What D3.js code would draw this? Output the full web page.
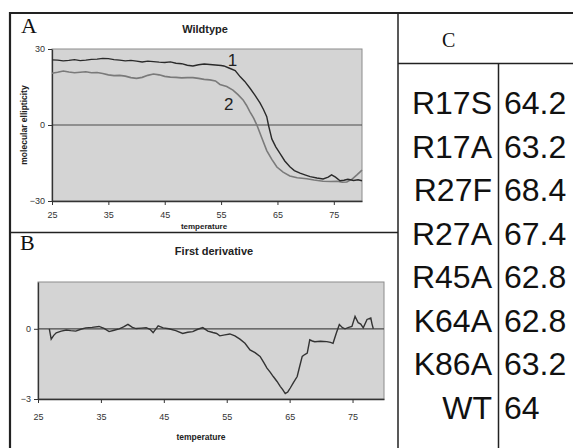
<!DOCTYPE html>
<html><head><meta charset="utf-8">
<script src="https://cdn.jsdelivr.net/npm/d3@7"></script>
<style>
body{margin:0;background:#fff;}
svg{display:block;font-family:"Liberation Sans",Arial,sans-serif;}
</style></head>
<body>
<script>
// ---- data ----
const tempA1 = [25,26,27,28,29,30,31,32,33,34,35,36,37,38,39,40,41,42,43,44,45,46,47,48,49,50,51,52,53,54,55,55.5,56.5,57.5,58.4,59.2,60.1,61,61.9,62.5,63.1,63.4,64,64.7,65.5,66.3,67.2,68,69,70,70.8,72,73.1,74,74.6,75.3,76.1,76.8,77.5,78.5,79.3,80];
const curve1 = [25.7,25.6,25.3,25.5,25.8,25.4,25.6,25.9,26.0,26.3,26.2,25.8,25.6,25.3,25.5,25.2,24.9,25.2,25.0,24.8,24.7,24.9,24.4,24.2,23.6,23.3,23.8,24.1,23.9,23.7,23.5,23.3,22.4,21.5,19.0,17.2,14.6,11.8,8.7,6.2,3.3,0,-5.5,-8.6,-11.4,-14.2,-16.5,-18.0,-19.0,-19.8,-20.4,-20.9,-21.3,-20.6,-19.7,-20.6,-22.0,-21.8,-21.4,-21.9,-21.6,-22.0];
const tempA2 = [25,26,27,28,29,30,31,32,33,34,35,36,37,38,39,40,41,42,43,44,45,46,47,48,49,50,51,52,53,54,54.8,56,57.1,58,58.9,59.5,60.1,60.8,61.4,62.3,63.1,64,64.9,66,67.2,68.5,70.2,71.5,73.1,74.5,75.6,76.5,77.3,78.3,79.1,80];
const curve2 = [20.4,20.8,21.3,20.9,20.6,20.8,21.0,20.6,20.7,20.3,19.8,19.5,19.6,19.3,18.7,18.4,18.8,19.6,20.1,19.8,19.2,18.9,18.8,18.6,18.7,18.7,18.4,18.0,17.8,17.4,16.0,15.2,13.8,12.0,9.9,7.8,5.3,2.6,-0.3,-5.5,-10.1,-13.6,-16.6,-18.6,-20.1,-20.8,-21.2,-21.7,-22.2,-22.3,-22.2,-22.6,-22.5,-21.3,-19.7,-17.8];
const tempB = [26.8,27.1,27.5,27.9,28.7,29.5,30.2,31,31.8,32.6,33.6,34.7,35.5,36.3,37.1,37.9,38.6,39.3,40,40.6,41.4,42.2,42.8,43.3,44.1,44.9,45.8,46.9,48,48.8,49.6,50.4,51.2,52,52.8,53.4,53.9,54.7,55.5,56.3,57.1,57.9,58.7,59.5,60.3,60.9,61.4,61.9,62.4,63,63.5,63.9,64.3,64.7,65.1,65.6,66.2,66.6,67,67.4,67.8,68.2,68.6,69,69.9,70.9,71.5,71.9,72.4,72.9,73.4,73.8,74.4,74.9,75.4,75.9,76.3,76.7,77.3,77.9,78.1,78.3];
const deriv = [0,-0.44,-0.28,-0.17,-0.1,-0.05,-0.08,-0.1,-0.02,0.04,0.06,0.1,0.02,-0.12,-0.06,0,0.08,0.19,0.06,0.01,0.03,0.05,-0.02,-0.16,0.13,0.04,0,-0.08,-0.2,-0.15,-0.12,-0.02,0.05,-0.1,-0.16,-0.2,-0.3,-0.26,-0.22,-0.3,-0.44,-0.62,-0.9,-1.02,-1.18,-1.45,-1.68,-1.85,-2.04,-2.25,-2.46,-2.6,-2.77,-2.7,-2.53,-2.3,-2.04,-1.6,-1.18,-1.1,-1.04,-0.47,-0.52,-0.55,-0.53,-0.55,-0.58,-0.62,-0.2,0.18,0.05,0,0.06,0.1,0.53,0.26,0.2,0.04,0.4,0.46,0.2,0];
const xTicks = [25,35,45,55,65,75];
const yTicksA = [-30,0,30];
const yTicksB = [-3,0];
const mutants = ["R17S","R17A","R27F","R27A","R45A","K64A","K86A","WT"];
const tmValues = ["64.2","63.2","68.4","67.4","62.8","62.8","63.2","64"];

// ---- drawing ----
const W = 573, H = 448;
const svg = d3.select("body").append("svg").attr("width", W).attr("height", H);

function panel(cfg){
  const x = d3.scaleLinear().domain([25,80]).range([cfg.left, cfg.right]);
  const y = d3.scaleLinear().domain(cfg.ydom).range([cfg.bottom, cfg.top]);
  svg.append("rect").attr("x",cfg.left).attr("y",cfg.top)
    .attr("width",cfg.right-cfg.left).attr("height",cfg.bottom-cfg.top)
    .attr("fill","#d4d4d4").attr("stroke","#8c8c8c").attr("stroke-width",1);
  svg.append("line").attr("x1",cfg.left).attr("x2",cfg.right)
    .attr("y1",y(0)).attr("y2",y(0)).attr("stroke","#4a4a4a").attr("stroke-width",1.2);
  const xa = svg.append("g").attr("transform",`translate(0,${cfg.bottom})`)
    .call(d3.axisBottom(x).tickValues(xTicks).tickSize(4).tickSizeOuter(0).tickFormat(d3.format("d")));
  const ya = svg.append("g").attr("transform",`translate(${cfg.left},0)`)
    .call(d3.axisLeft(y).tickValues(cfg.yticks).tickSize(4).tickSizeOuter(0).tickFormat(d3.format("d")));
  [xa,ya].forEach(a=>{
    a.select(".domain").attr("stroke","#333").attr("stroke-width",1.3);
    a.selectAll(".tick line").attr("stroke","#333");
    a.selectAll("text").attr("font-size",9).attr("fill","#333").attr("font-family","Liberation Sans, Arial, sans-serif");
  });
  xa.selectAll("text").attr("dy", cfg.xdy);
  return {x,y};
}

// Panel A
const A = panel({left:52,right:362,top:49,bottom:201,ydom:[-30,30],yticks:yTicksA,xdy:"1.1em"});
const lineA = d3.line().x(d=>A.x(d[0])).y(d=>A.y(d[1]));
svg.append("path").datum(tempA2.map((t,i)=>[t,curve2[i]]))
  .attr("d",lineA).attr("fill","none").attr("stroke","#7a7a7a").attr("stroke-width",1.6);
svg.append("path").datum(tempA1.map((t,i)=>[t,curve1[i]]))
  .attr("d",lineA).attr("fill","none").attr("stroke","#2a2a2a").attr("stroke-width",1.4);
svg.append("text").attr("x",A.x(56.2)).attr("y",A.y(23.3)).attr("font-size",17).attr("fill","#222").text("1");
svg.append("text").attr("x",A.x(55.5)).attr("y",A.y(5.8)).attr("font-size",17).attr("fill","#222").text("2");
svg.append("text").attr("x",205).attr("y",33).attr("text-anchor","middle")
  .attr("font-size",11).attr("font-weight","bold").attr("fill","#222").text("Wildtype");
svg.append("text").attr("transform","translate(27,125) rotate(-90)").attr("text-anchor","middle")
  .attr("font-size",8.5).attr("font-weight","bold").attr("fill","#222").text("molecular ellipticity");
svg.append("text").attr("x",204).attr("y",229).attr("text-anchor","middle")
  .attr("font-size",8).attr("font-weight","bold").attr("fill","#222").text("temperature");

// Panel B
const B = panel({left:38,right:384,top:282,bottom:399,ydom:[-3,2],yticks:yTicksB,xdy:"1.6em"});
const lineB = d3.line().x(d=>B.x(d[0])).y(d=>B.y(d[1]));
svg.append("path").datum(tempB.map((t,i)=>[t,deriv[i]]))
  .attr("d",lineB).attr("fill","none").attr("stroke","#333").attr("stroke-width",1.4);
svg.append("text").attr("x",214).attr("y",255).attr("text-anchor","middle")
  .attr("font-size",11).attr("font-weight","bold").attr("fill","#222").text("First derivative");
svg.append("text").attr("x",201).attr("y",440).attr("text-anchor","middle")
  .attr("font-size",8.5).attr("font-weight","bold").attr("fill","#222").text("temperature");

// Panel letters
const serif = "Liberation Serif, Times New Roman, serif";
svg.append("text").attr("x",21).attr("y",33).attr("font-family",serif).attr("font-size",22).attr("fill","#111").text("A");
svg.append("text").attr("x",20).attr("y",250).attr("font-family",serif).attr("font-size",22).attr("fill","#111").text("B");
svg.append("text").attr("x",442).attr("y",47).attr("font-family",serif).attr("font-size",20).attr("fill","#111").text("C");

// Frame lines
const fr = svg.append("g").attr("stroke","#222");
fr.append("line").attr("x1",9).attr("x2",W).attr("y1",13).attr("y2",13).attr("stroke-width",2.2);
fr.append("line").attr("x1",10).attr("x2",10).attr("y1",12).attr("y2",H).attr("stroke-width",2.2);
fr.append("line").attr("x1",10).attr("x2",398).attr("y1",232.5).attr("y2",232.5).attr("stroke-width",1.5);
fr.append("line").attr("x1",398).attr("x2",398).attr("y1",13).attr("y2",H).attr("stroke-width",1.5);
fr.append("line").attr("x1",398).attr("x2",W).attr("y1",63.5).attr("y2",63.5).attr("stroke-width",1.5);
fr.append("line").attr("x1",498.5).attr("x2",498.5).attr("y1",63).attr("y2",H).attr("stroke-width",1.5);

// Table C
const rowY = d3.scalePoint().domain(mutants).range([114,419]);
svg.append("g").selectAll("text").data(mutants).join("text")
  .attr("x",492).attr("y",d=>rowY(d)).attr("text-anchor","end")
  .attr("font-size",32).attr("fill","#111").text(d=>d);
svg.append("g").selectAll("text").data(tmValues).join("text")
  .attr("x",504).attr("y",(d,i)=>rowY(mutants[i]))
  .attr("font-size",32).attr("fill","#111").text(d=>d);
</script>
</body></html>
